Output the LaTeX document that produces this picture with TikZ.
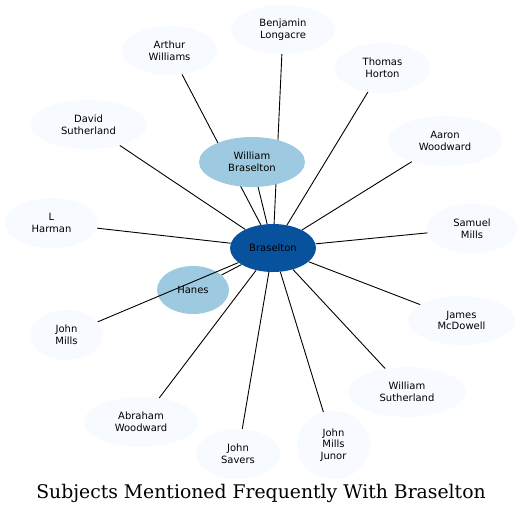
\documentclass[tikz,border=0pt]{standalone}
\usepackage{fontspec}
\newfontfamily\nodefont{DejaVu Sans}
\newfontfamily\titlefont{DejaVu Serif}
\usetikzlibrary{shapes.geometric,backgrounds}
\definecolor{hub}{HTML}{08519C}
\definecolor{mid}{HTML}{9ECAE1}
\definecolor{pale}{HTML}{F7FBFF}
\tikzset{
  pnode/.style={ellipse, inner sep=0pt, fill=pale, align=center,
    font=\nodefont\fontsize{10}{11.7}\selectfont, text=black},
  mnode/.style={pnode, fill=mid},
  hnode/.style={pnode, fill=hub},
  edge/.style={draw=black, line width=0.9pt},
}
\begin{document}
\begin{tikzpicture}[x=1pt,y=-1pt]
\useasboundingbox (0,0) rectangle (522,515);
% nodes
\node[hnode, minimum width=86, minimum height=48] (bra) at (273,248) {Braselton};
\node[mnode, minimum width=106, minimum height=50] (wb) at (252,162) {William\\Braselton};
\node[mnode, minimum width=72, minimum height=48] (han) at (193,290) {Hanes};
\node[pnode, minimum width=95, minimum height=49] (aw) at (169.5,50.5) {Arthur\\Williams};
\node[pnode, minimum width=104, minimum height=49] (bl) at (283,29.5) {Benjamin\\Longacre};
\node[pnode, minimum width=95, minimum height=50] (th) at (382.5,68) {Thomas\\Horton};
\node[pnode, minimum width=114, minimum height=50] (aaw) at (445,141) {Aaron\\Woodward};
\node[pnode, minimum width=117, minimum height=49] (ds) at (88.5,124.5) {David\\Sutherland};
\node[pnode, minimum width=93, minimum height=50] (lh) at (51.5,223) {L\\Harman};
\node[pnode, minimum width=90, minimum height=50] (sm) at (472,228.5) {Samuel\\Mills};
\node[pnode, minimum width=107, minimum height=49] (jmd) at (461.5,320.5) {James\\McDowell};
\node[pnode, minimum width=73, minimum height=50] (jm) at (66.5,335) {John\\Mills};
\node[pnode, minimum width=118, minimum height=50] (ws) at (407,392) {William\\Sutherland};
\node[pnode, minimum width=114, minimum height=50] (abw) at (141,422) {Abraham\\Woodward};
\node[pnode, minimum width=84, minimum height=50] (js) at (238,454) {John\\Savers};
\node[pnode, minimum width=73, minimum height=68] (jmj) at (333.5,445) {John\\Mills\\Junor};
% edges beneath nodes
\begin{scope}[on background layer]
\foreach \n in {wb,han,aw,bl,th,aaw,ds,lh,sm,jmd,ws,abw,js,jmj}{
  \draw[edge] (bra) -- (\n);
}
\end{scope}
% this edge is drawn over the Hanes node
\draw[edge] (bra) -- (jm);
% title
\node[font=\titlefont\fontsize{18.8}{22}\selectfont, inner sep=0pt, anchor=base] (title) at (261,498) {Subjects Mentioned Frequently With Braselton};
\end{tikzpicture}
\end{document}
